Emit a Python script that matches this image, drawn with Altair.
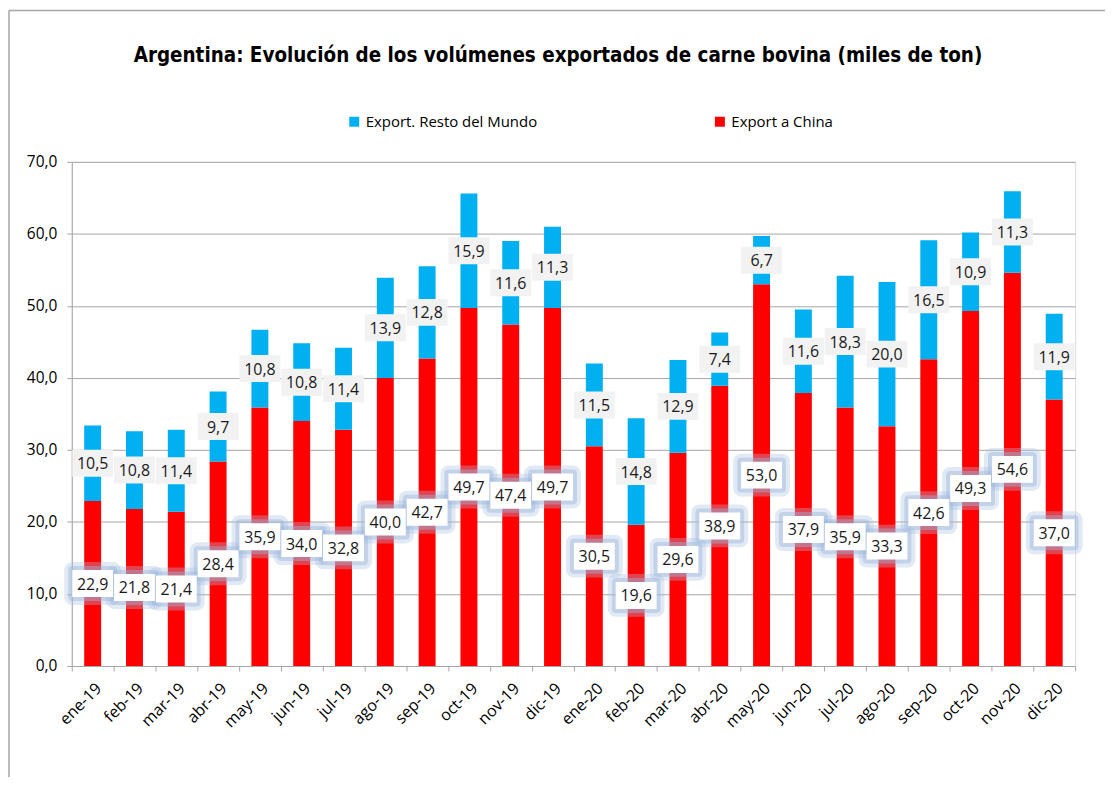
import altair as alt
import pandas as pd

months = ["ene-19", "feb-19", "mar-19", "abr-19", "may-19", "jun-19", "jul-19", "ago-19",
          "sep-19", "oct-19", "nov-19", "dic-19", "ene-20", "feb-20", "mar-20", "abr-20",
          "may-20", "jun-20", "jul-20", "ago-20", "sep-20", "oct-20", "nov-20", "dic-20"]
china = [22.9, 21.8, 21.4, 28.4, 35.9, 34.0, 32.8, 40.0, 42.7, 49.7, 47.4, 49.7,
         30.5, 19.6, 29.6, 38.9, 53.0, 37.9, 35.9, 33.3, 42.6, 49.3, 54.6, 37.0]
resto = [10.5, 10.8, 11.4, 9.7, 10.8, 10.8, 11.4, 13.9, 12.8, 15.9, 11.6, 11.3,
         11.5, 14.8, 12.9, 7.4, 6.7, 11.6, 18.3, 20.0, 16.5, 10.9, 11.3, 11.9]
series_names = ["Export. Resto del Mundo", "Export a China"]
series_colors = ["#00B0F0", "#FF0000"]
title_text = "Argentina: Evolución de los volúmenes exportados de carne bovina (miles de ton)"

rows = []
for m, c, r in zip(months, china, resto):
    rows.append({"mes": m, "serie": series_names[1], "valor": c, "ini": 0.0, "fin": c})
    rows.append({"mes": m, "serie": series_names[0], "valor": r, "ini": c, "fin": c + r})
df = pd.DataFrame(rows)
df["mid"] = (df["ini"] + df["fin"]) / 2
df["etq"] = df["valor"].map(lambda v: f"{v:.1f}".replace(".", ","))

W, H = 1007, 506
FONT = "Open Sans"
NARROW = "Liberation Sans Narrow, DejaVu Sans Condensed, Arial Narrow, sans-serif"
GRAY = "#A6A6A6"

x_enc = alt.X("mes:N", sort=months, title=None,
              scale=alt.Scale(paddingInner=0, paddingOuter=0),
              axis=alt.Axis(labelAngle=-45, tickBand="extent", tickSize=5,
                            domainColor=GRAY, tickColor=GRAY, labelFont=FONT,
                            labelFontSize=16, labelColor="#000000", labelPadding=9,
                            grid=False))
y_scale = alt.Scale(domain=[0, 70], nice=False)
y_axis = alt.Axis(values=[0, 10, 20, 30, 40, 50, 60, 70], grid=True, gridColor=GRAY,
                  gridWidth=1, domainColor=GRAY, tickColor=GRAY, tickSize=5,
                  labelFont=FONT, labelFontSize=15.5, labelColor="#000000", labelPadding=10,
                  labelExpr="replace(format(datum.value, '.1f'), '.', ',')")

base = alt.Chart(df)

bars = base.mark_bar(width=17).encode(
    x=x_enc,
    y=alt.Y("ini:Q", scale=y_scale, axis=y_axis, title=None),
    y2="fin:Q",
    color=alt.Color("serie:N", scale=alt.Scale(domain=series_names, range=series_colors),
                    sort=series_names,
                    legend=alt.Legend(title=None, orient="none", legendX=276, legendY=-48,
                                      direction="horizontal", symbolType="square",
                                      symbolSize=100, symbolStrokeWidth=0,
                                      labelFont=FONT, labelFontSize=15, labelColor="#000000",
                                      labelOffset=4, columnPadding=175, padding=0,
                                      labelLimit=400)),
)

BOX = "M-1,-0.66H1V0.66H-1Z"
china_df = base.transform_filter(alt.datum.serie == series_names[1])
resto_df = base.transform_filter(alt.datum.serie == series_names[0])

pos = dict(x=alt.X("mes:N", sort=months), y=alt.Y("mid:Q", scale=y_scale))

glow_outer = china_df.mark_point(shape=BOX, size=1681, filled=False, stroke="#A9C0E2",
                                 strokeWidth=16, strokeOpacity=0.35, opacity=1,
                                 strokeJoin="round").encode(**pos)
glow_inner = china_df.mark_point(shape=BOX, size=1681, filled=False, stroke="#9DB5DC",
                                 strokeWidth=8, strokeOpacity=0.45, opacity=1,
                                 strokeJoin="round").encode(**pos)
white_box = china_df.mark_point(shape=BOX, size=1681, filled=True, fill="#FFFFFF",
                                fillOpacity=1, strokeWidth=0, opacity=1).encode(**pos)
gray_box = resto_df.mark_point(shape=BOX, size=1681, filled=True, fill="#F2F2F2",
                               fillOpacity=1, strokeWidth=0, opacity=1).encode(**pos)
labels = base.mark_text(font=FONT, fontSize=16, color="#1A1A1A", baseline="middle",
                        dy=1).encode(text="etq:N", **pos)

title = alt.Chart(pd.DataFrame({"t": [title_text]})).mark_text(
    font=NARROW, fontSize=20.5, fontWeight="bold", color="#000000",
    align="center", baseline="middle").encode(
    text="t:N", x=alt.value(488), y=alt.value(-106))

frame_left = alt.Chart(pd.DataFrame({"a": [0]})).mark_rule(color=GRAY, strokeWidth=1.5).encode(
    x=alt.value(-63), y=alt.value(-152), y2=alt.value(H + 130))
frame_top = alt.Chart(pd.DataFrame({"a": [0]})).mark_rule(color=GRAY, strokeWidth=1.5).encode(
    x=alt.value(-63), x2=alt.value(W + 40), y=alt.value(-152))

chart = alt.layer(frame_left, frame_top, title, bars, glow_outer, glow_inner, white_box,
                  gray_box, labels).properties(
    width=W, height=H,
    autosize=alt.AutoSizeParams(type="none"),
    padding={"left": 64, "top": 153, "right": 30, "bottom": 110},
).configure_view(stroke=None).configure(background="#FFFFFF")

chart.save("out.html", embed_options={"renderer": "svg", "actions": False})
